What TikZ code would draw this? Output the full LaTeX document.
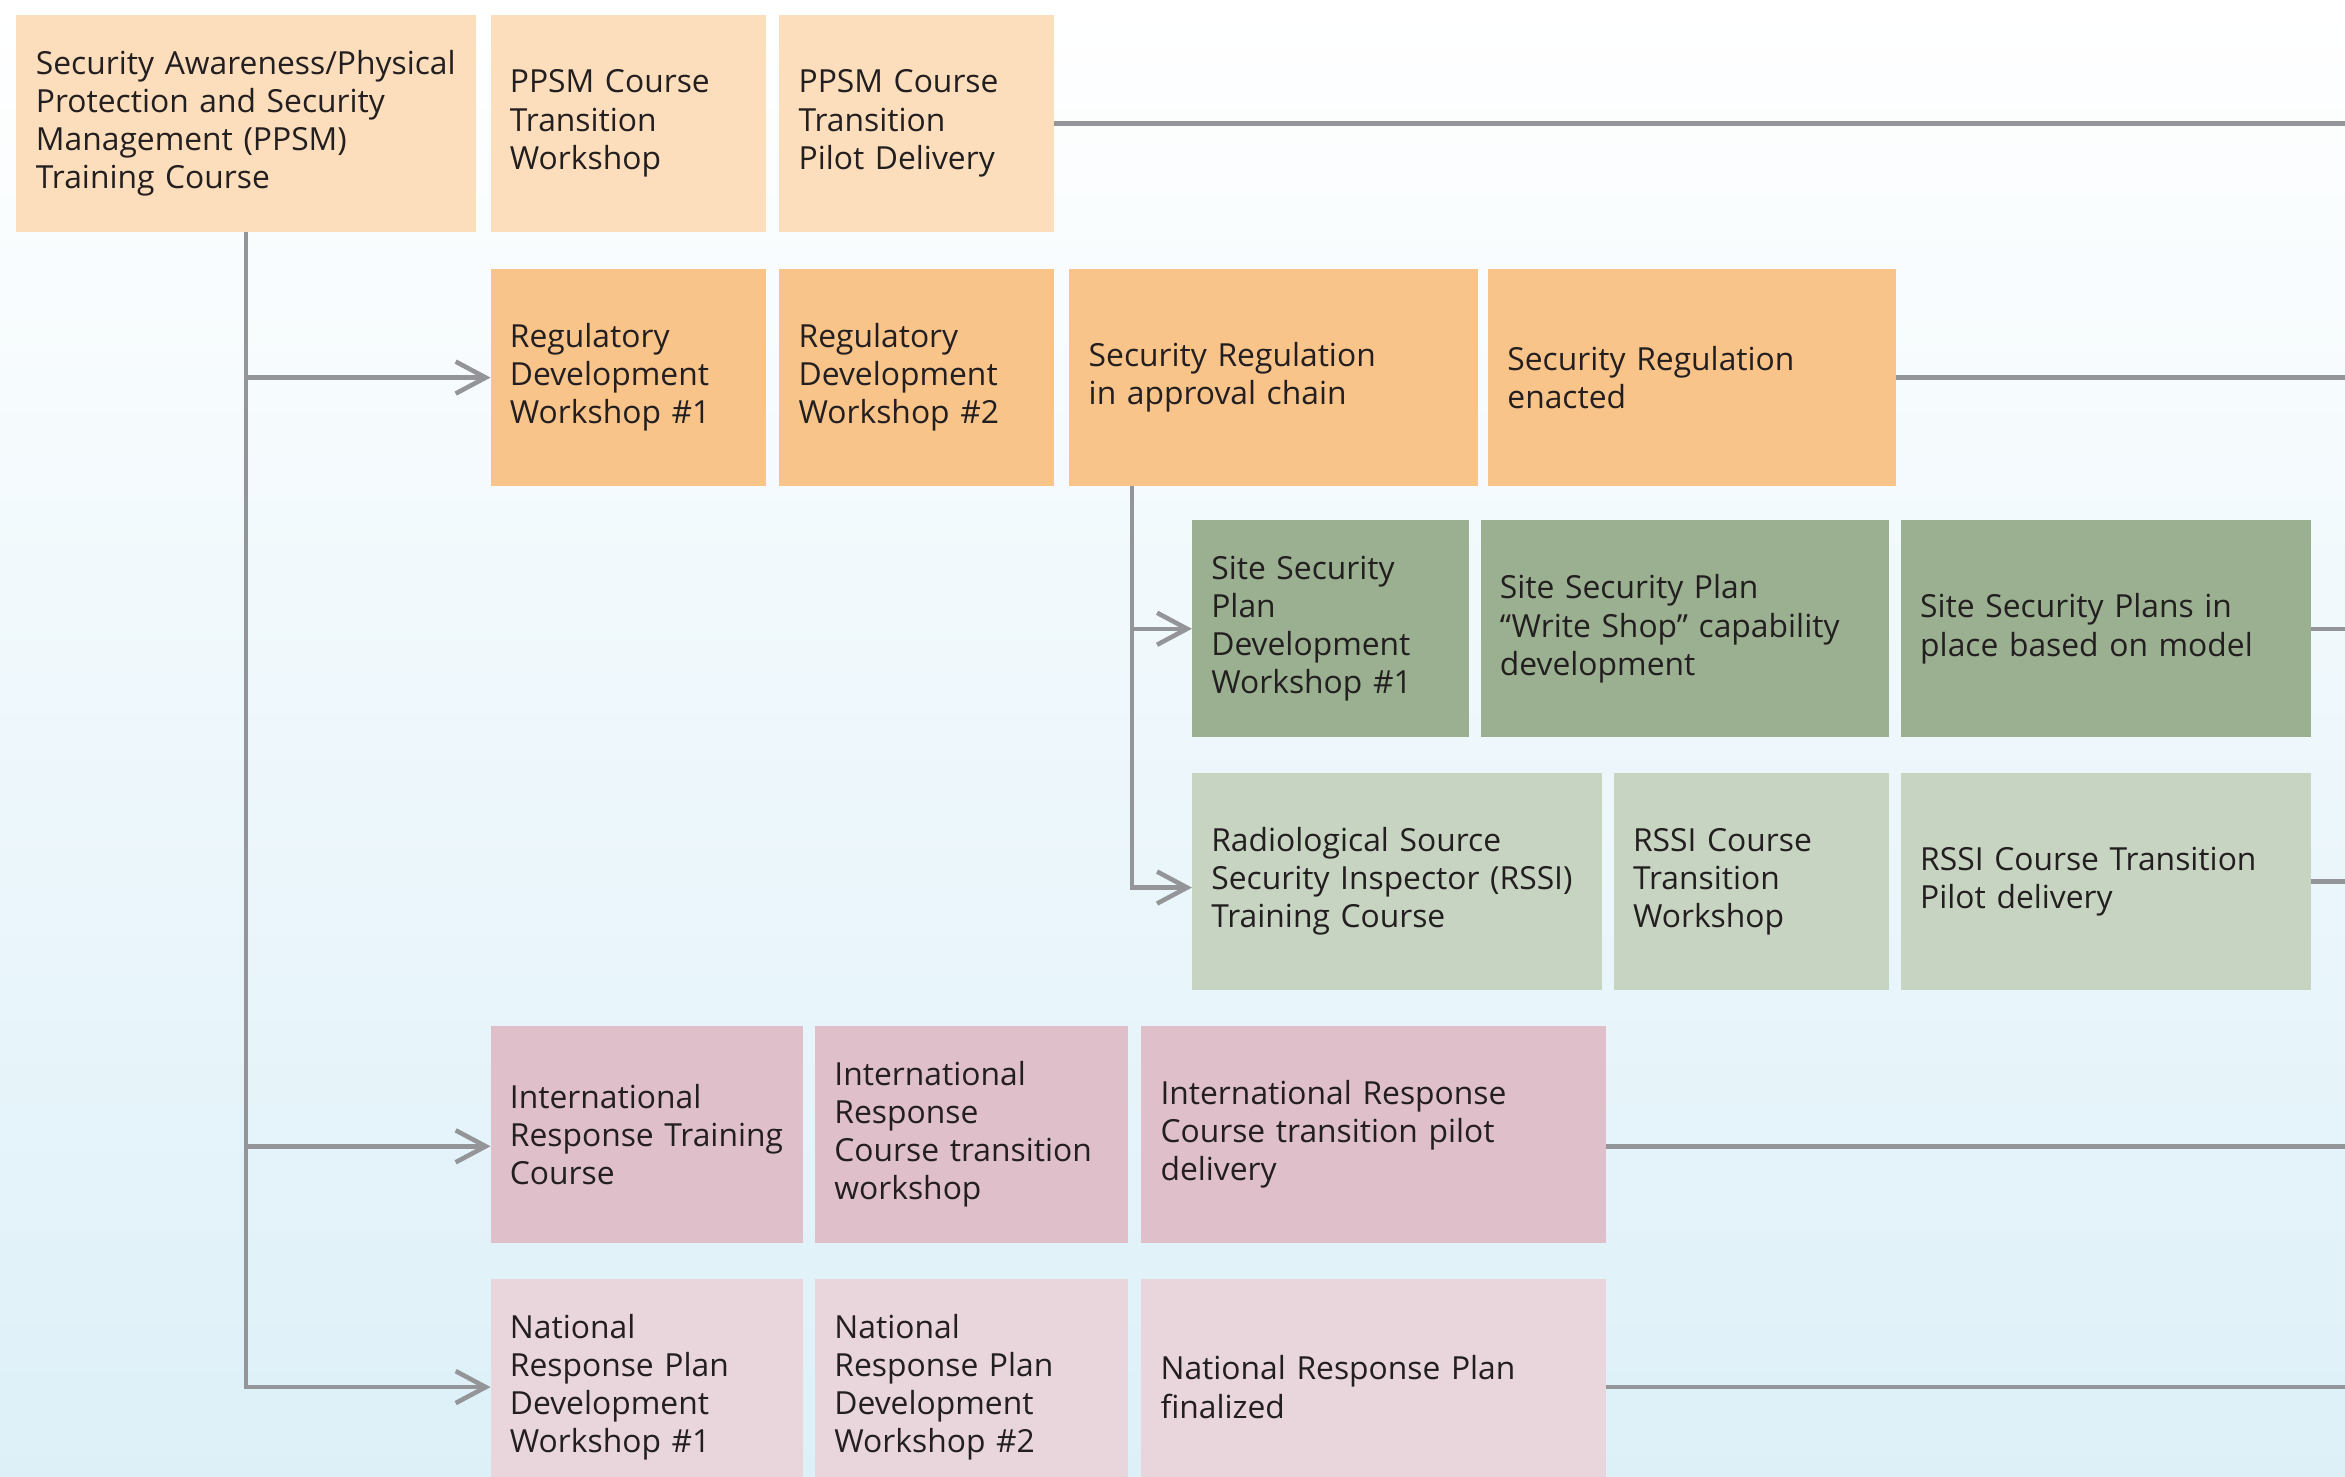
\documentclass[tikz,border=0pt]{standalone}
\usepackage{fontspec}
\setmainfont{Open Sans}
\usetikzlibrary{arrows.meta}

\definecolor{peachlight}{RGB}{252,222,188}
\definecolor{peach}{RGB}{249,196,138}
\definecolor{sagedark}{RGB}{154,176,144}
\definecolor{sagelight}{RGB}{200,212,194}
\definecolor{rosedark}{RGB}{223,192,202}
\definecolor{roselight}{RGB}{232,214,220}
\definecolor{linegray}{RGB}{147,149,152}
\definecolor{inktext}{RGB}{35,31,32}
\definecolor{skyblue}{RGB}{221,240,248}
\definecolor{skymid}{RGB}{246,250,252}

\begin{document}
\begin{tikzpicture}[
    box/.style={anchor=north west, inner xsep=0.194cm, inner ysep=0pt, outer sep=0pt,
                align=left, text=inktext, minimum height=2.168cm,
                font={\fontsize{9.05}{10.85}\selectfont\hyphenpenalty=10000\relax}},
    link/.style={draw=linegray, line width=1.3pt},
    feed/.style={link, -{Straight Barb[length=3mm,width=3.2mm]}}
  ]
                    \useasboundingbox (0,0) rectangle (23.450000,14.761000);
                    % Background
                    \shade [top color=white, middle color=skymid, bottom color=skyblue] (0,0) rectangle (23.450000,14.761000);
                    \coordinate (edge) at (23.450000,0);

                    % Row of the PPSM course
                    \node [box, fill=peachlight, text width=4.203cm] (ppsm) at (0.165000,14.611000) {Security~Awareness/Physical\\Protection and Security\\Management (PPSM)\\Training Course};
                    \node [box, fill=peachlight, text width=2.364cm] (ppsmws) at (4.905000,14.611000) {PPSM Course\\Transition\\Workshop};
                    \node [box, fill=peachlight, text width=2.364cm] (ppsmpilot) at (7.792000,14.611000) {PPSM Course\\Transition\\Pilot Delivery};

                    % Row of the regulation
                    \node [box, fill=peach, text width=2.364cm] (regws1) at (4.905000,12.069000) {Regulatory\\Development\\Workshop \#1};
                    \node [box, fill=peach, text width=2.364cm] (regws2) at (7.792000,12.069000) {Regulatory\\Development\\Workshop \#2};
                    \node [box, fill=peach, text width=3.695cm] (regchain) at (10.693000,12.069000) {Security Regulation\\in approval chain};
                    \node [box, fill=peach, text width=3.695cm] (regdone) at (14.880000,12.069000) {Security Regulation\\enacted};

                    % Row of the site security plans
                    \node [box, fill=sagedark, text width=2.379cm] (sitews) at (11.919000,9.557000) {Site Security\\Plan\\Development\\Workshop \#1};
                    \node [box, fill=sagedark, text width=3.695cm] (siteshop) at (14.805000,9.557000) {Site Security Plan\\“Write Shop” capability\\development};
                    \node [box, fill=sagedark, text width=3.710cm] (siteplans) at (19.008000,9.557000) {Site Security Plans in\\place based on model};

                    % Row of the RSSI course
                    \node [box, fill=sagelight, text width=3.710cm] (rssi) at (11.919000,7.029000) {Radiological Source\\Security~Inspector~(RSSI)\\Training Course};
                    \node [box, fill=sagelight, text width=2.364cm] (rssiws) at (16.136000,7.029000) {RSSI Course\\Transition\\Workshop};
                    \node [box, fill=sagelight, text width=3.710cm] (rssipilot) at (19.008000,7.029000) {RSSI Course Transition\\Pilot delivery};

                    % Row of the international response
                    \node [box, fill=rosedark, text width=2.738cm] (intl) at (4.905000,4.502000) {International\\Response~Training\\Course};
                    \node [box, fill=rosedark, text width=2.738cm] (intlws) at (8.150000,4.502000) {International\\Response\\Course transition\\workshop};
                    \node [box, fill=rosedark, text width=4.263cm] (intlpilot) at (11.411000,4.502000) {International Response\\Course transition pilot\\delivery};

                    % Row of the national response plan
                    \node [box, fill=roselight, text width=2.738cm] (natws1) at (4.905000,1.974000) {National\\Response Plan\\Development\\Workshop \#1};
                    \node [box, fill=roselight, text width=2.738cm] (natws2) at (8.150000,1.974000) {National\\Response Plan\\Development\\Workshop \#2};
                    \node [box, fill=roselight, text width=4.263cm] (natdone) at (11.411000,1.974000) {National Response Plan\\finalized};

                    % Drawing trunk from the PPSM course
                    \coordinate (intlin) at ([yshift=-0.12cm]intl.west);
                    \draw [feed] (ppsm.south) |- (natws1.west);
                    \draw [feed] (ppsm.south |- regws1.west) -- (regws1.west);
                    \draw [feed] (ppsm.south |- intlin) -- (intlin);

                    % Drawing trunk from the approval chain
                    \coordinate (fork) at ([xshift=0.628cm]regchain.south west);
                    \coordinate (rssiin) at ([yshift=-0.06cm]rssi.west);
                    \draw [feed] (fork) |- (rssiin);
                    \draw [feed] (fork |- sitews.west) -- (sitews.west);

                    % Drawing lines leaving to the right
                    \coordinate (intlout) at ([yshift=-0.12cm]intlpilot.east);
                    \draw [link] (ppsmpilot.east) -- (ppsmpilot.east -| edge);
                    \draw [link] (regdone.east) -- (regdone.east -| edge);
                    \draw [link] (siteplans.east) -- (siteplans.east -| edge);
                    \draw [link] (rssipilot.east) -- (rssipilot.east -| edge);
                    \draw [link] (intlout) -- (intlout -| edge);
                    \draw [link] (natdone.east) -- (natdone.east -| edge);
\end{tikzpicture}
\end{document}
